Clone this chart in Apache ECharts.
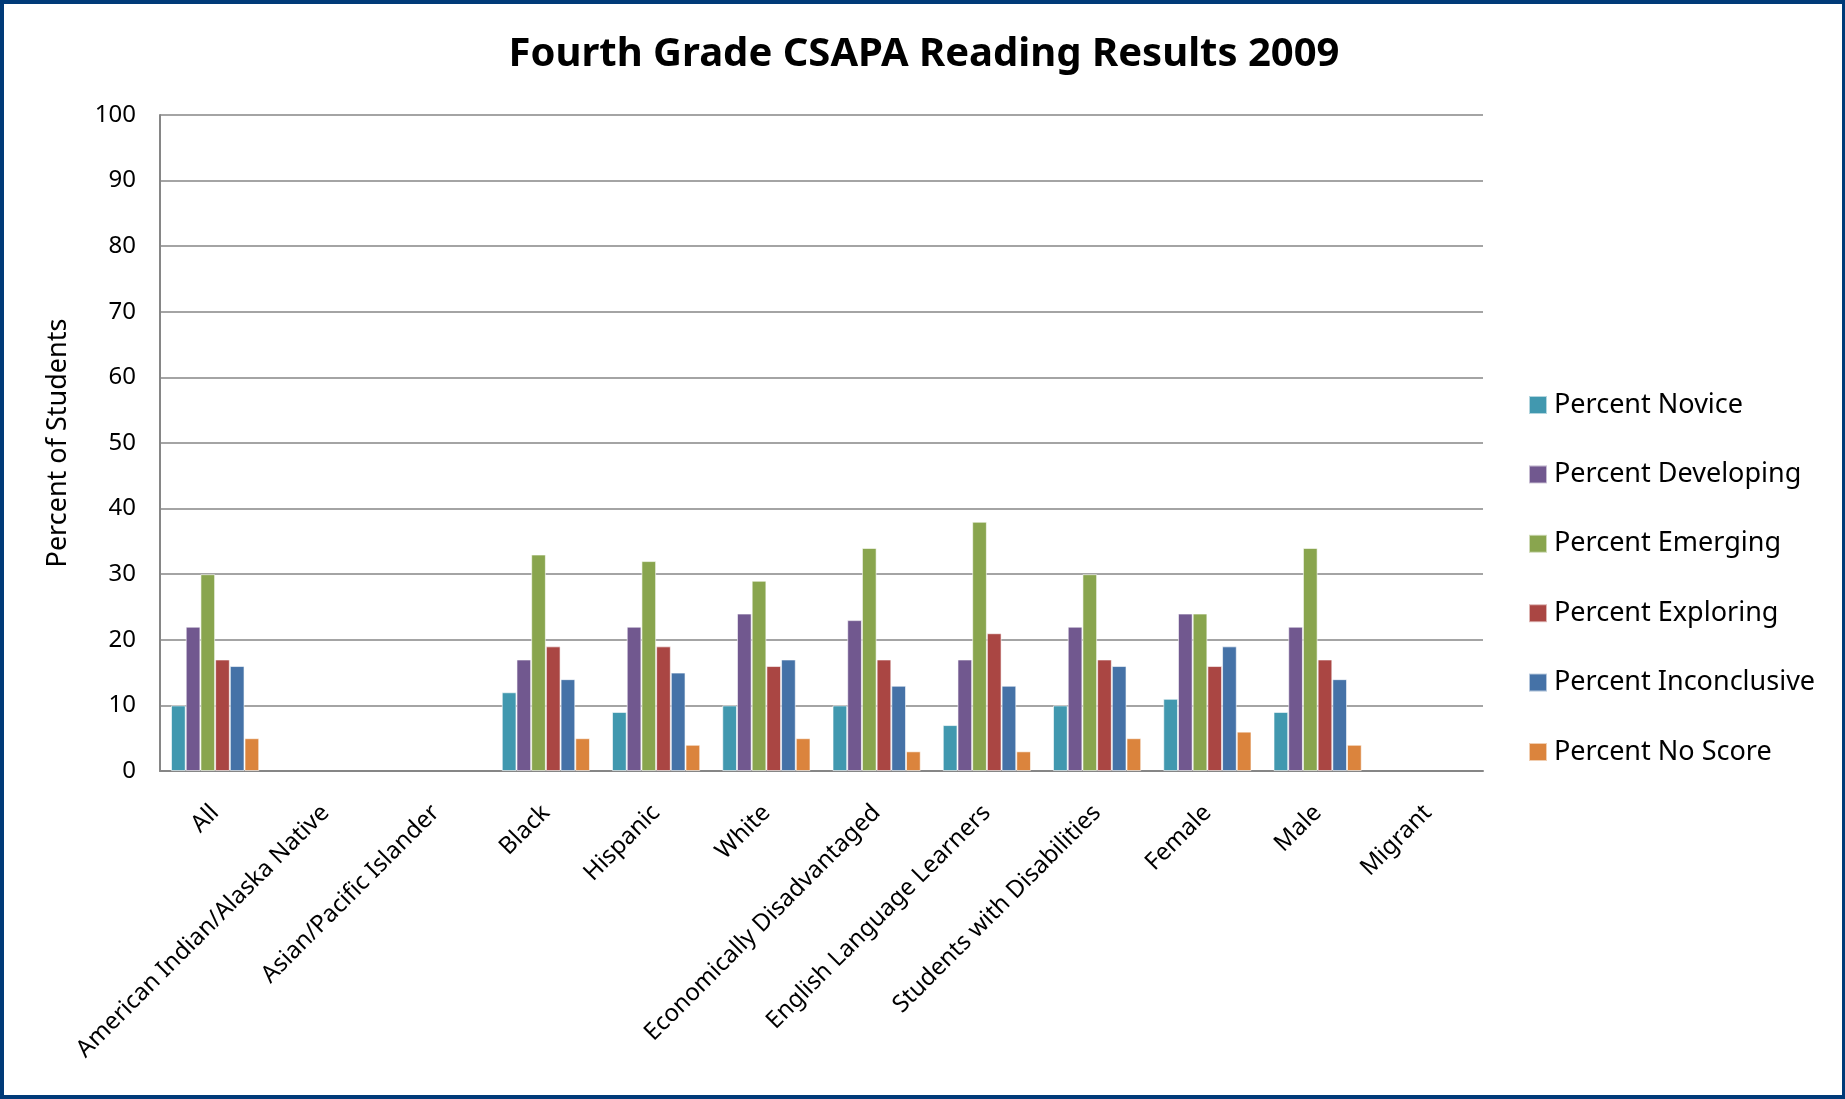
<!DOCTYPE html>
<html><head><meta charset="utf-8">
<script src="https://cdn.jsdelivr.net/npm/echarts@6/dist/echarts.min.js"></script>
<style>
html,body{margin:0;padding:0;background:#fff;}
#c{width:1845px;height:1099px;box-sizing:border-box;border:4px solid #003A78;border-right-width:3px;}
</style></head><body>
<div id="c"></div>
<script>
const categories = ["All","American Indian/Alaska Native","Asian/Pacific Islander","Black","Hispanic","White","Economically Disadvantaged","English Language Learners","Students with Disabilities","Female","Male","Migrant"];
const seriesNames = ["Percent Novice","Percent Developing","Percent Emerging","Percent Exploring","Percent Inconclusive","Percent No Score"];
const novice       = [10,null,null,12, 9,10,10, 7,10,11, 9,null];
const developing   = [22,null,null,17,22,24,23,17,22,24,22,null];
const emerging     = [30,null,null,33,32,29,34,38,30,24,34,null];
const exploring    = [17,null,null,19,19,16,17,21,17,16,17,null];
const inconclusive = [16,null,null,14,15,17,13,13,16,19,14,null];
const noScore      = [ 5,null,null, 5, 4, 5, 3, 3, 5, 6, 4,null];
const yTicks = [0,10,20,30,40,50,60,70,80,90,100];
const colors = ["#4198AF","#71588F","#89A54E","#AA4643","#4572A7","#DB843D"];
const allData = [novice,developing,emerging,exploring,inconclusive,noScore];

const font = "'Noto Sans', 'Open Sans', sans-serif";
const chart = echarts.init(document.getElementById('c'), null, {renderer:'canvas'});
chart.setOption({
  animation:false,
  color: colors,
  textStyle:{fontFamily:font},
  title:{
    text:"Fourth Grade CSAPA Reading Results 2009",
    left: 915, top: 26, textAlign:'center',
    textStyle:{fontSize:40,fontWeight:'bold',color:'#000',fontFamily:font}
  },
  legend:{
    orient:'vertical', left:1519, top:382, itemGap:41.4,
    itemWidth:18, itemHeight:18, icon:'rect',
    textStyle:{fontSize:27,lineHeight:28,color:'#000',fontFamily:font, padding:[0,0,0,2]},
    data: seriesNames
  },
  grid:{left:156, right:359, top:111, bottom:324, containLabel:false},
  xAxis:{
    type:'category', data: categories,
    axisLine:{show:true,lineStyle:{color:'#868686',width:2}},
    axisTick:{show:false},
    axisLabel:{rotate:45, fontSize:24, color:'#000', margin:38, interval:0, fontFamily:font}
  },
  yAxis:{
    type:'value', min:yTicks[0], max:yTicks[yTicks.length-1], interval:10,
    name:'Percent of Students', nameLocation:'middle', nameGap:88, nameRotate:90,
    nameTextStyle:{fontSize:27,color:'#000',fontFamily:font},
    axisLine:{show:true,lineStyle:{color:'#868686',width:2}},
    axisTick:{show:false},
    axisLabel:{fontSize:24,color:'#000',margin:24,fontFamily:font},
    splitLine:{show:true,lineStyle:{color:'#868686',width:1.5}}
  },
  series: seriesNames.map((n,i)=>({
    name:n, type:'bar', data: allData[i],
    barGap:'0%', barCategoryGap:'20%',
    itemStyle:{color:colors[i], borderColor:'rgba(255,255,255,0.6)', borderWidth:1}
  }))
});
</script>
</body></html>
